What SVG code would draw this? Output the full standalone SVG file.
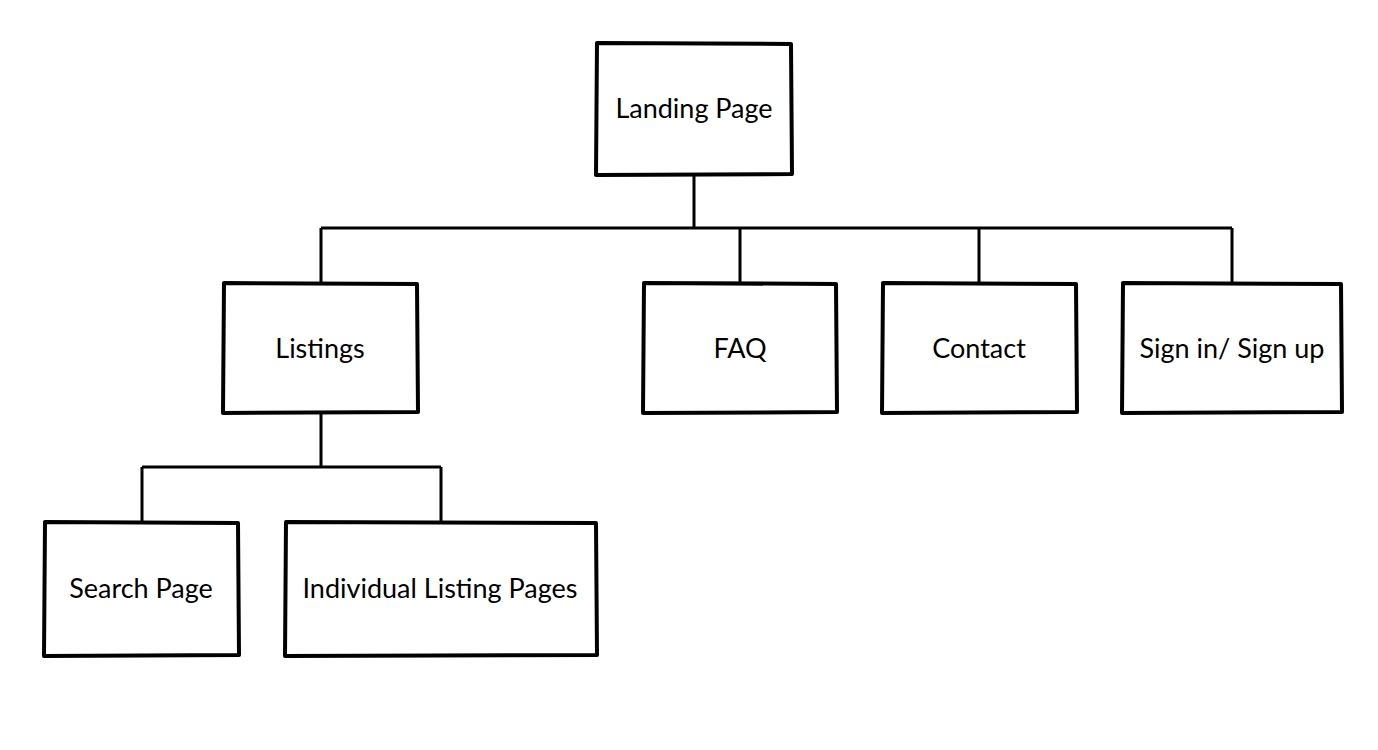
<svg xmlns="http://www.w3.org/2000/svg" width="1378" height="750" viewBox="0 0 1378 750">
<style>
.box{fill:#fff;stroke:#000;stroke-width:4;stroke-linejoin:round;stroke-linecap:round}
.conn{fill:none;stroke:#000;stroke-width:3}
.lbl{font-family:Lato,"Noto Sans",sans-serif;font-size:27px;fill:#000;text-anchor:middle;dominant-baseline:central}
</style>
<rect width="1378" height="750" fill="#fff"/>
<g id="connectors">
<path class="conn" d="M694 175 V228 M321 228 H1232 M321 228 V282 M740 228 V282 M979 228 V282 M1232 228 V282"/>
<path class="conn" d="M321 413 V467 M142 467 H441 M142 467 V521 M441 467 V521"/>
</g>
<g id="landing">
<path class="box" d="M597 43 L791 44 L792 174 L596 175 Z"/>
<text class="lbl" x="694" y="107">Landing Page</text>
</g>
<g id="listings">
<path class="box" d="M224 283 L417 284 L418 412 L223 413 Z"/>
<text class="lbl" x="320" y="347">Listings</text>
</g>
<g id="faq">
<path class="box" d="M644 283 L836 284 L837 412 L643 413 Z"/>
<text class="lbl" x="740" y="347">FAQ</text>
</g>
<g id="contact">
<path class="box" d="M883 283 L1076 284 L1077 412 L882 413 Z"/>
<text class="lbl" x="979" y="347">Contact</text>
</g>
<g id="signin">
<path class="box" d="M1123 283 L1341 284 L1342 412 L1122 413 Z"/>
<text class="lbl" x="1232" y="347">Sign in/ Sign up</text>
</g>
<g id="search">
<path class="box" d="M45 522 L238 523 L239 655 L44 656 Z"/>
<text class="lbl" x="141" y="587">Search Page</text>
</g>
<g id="individual">
<path class="box" d="M286 522 L596 523 L597 655 L285 656 Z"/>
<text class="lbl" x="440" y="587">Individual Listing Pages</text>
</g>
</svg>
